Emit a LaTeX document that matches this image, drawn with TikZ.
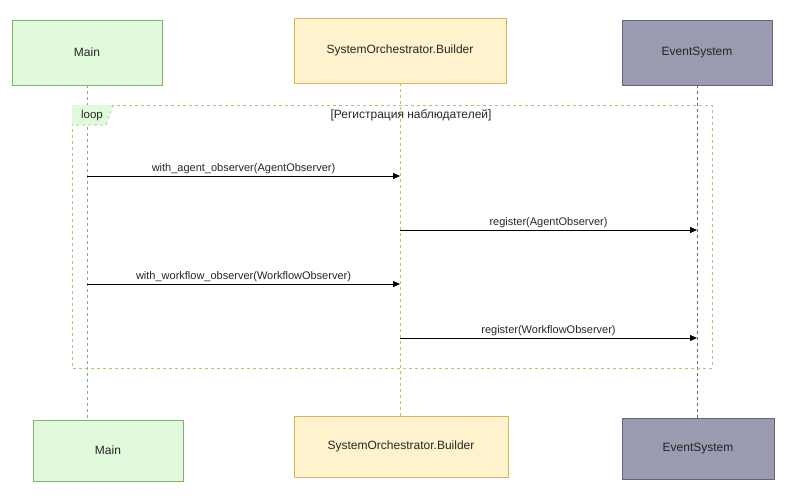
\documentclass[tikz,border=0pt]{standalone}
\usepackage{fontspec}
\setmainfont{Liberation Sans}
\usetikzlibrary{arrows.meta}
\definecolor{mainfill}{HTML}{E1FADC}
\definecolor{mainline}{HTML}{82B366}
\definecolor{bldfill}{HTML}{FFF2CC}
\definecolor{bldline}{HTML}{D6B656}
\definecolor{evfill}{HTML}{9A9AB0}
\definecolor{evline}{HTML}{66667A}
\definecolor{loopline}{HTML}{97D077}
\begin{document}
\begin{tikzpicture}[x=1pt,y=-1pt,
  actor/.style={draw, line width=0.8pt, inner sep=0pt, font=\fontsize{12}{14}\selectfont, text=black!85},
  lifeline/.style={dashed, dash pattern=on 3pt off 3pt, line width=0.7pt},
  msg/.style={-{Triangle[length=7pt,width=6pt]}, line width=0.8pt},
  msglabel/.style={font=\fontsize{11}{13}\selectfont, text=black!85, anchor=south, inner sep=1.5pt}]
\useasboundingbox (0,0) rectangle (802,501);
% participants, top row
\node[actor, fill=mainfill, draw=mainline, minimum width=150pt, minimum height=65pt] (mainT) at (87,52.5) {Main};
\node[actor, fill=bldfill, draw=bldline, minimum width=212pt, minimum height=65pt] (bldT) at (400,50.5) {SystemOrchestrator.Builder};
\node[actor, fill=evfill, draw=evline, minimum width=150pt, minimum height=65pt] (evT) at (697,52.5) {EventSystem};
% participants, bottom row
\node[actor, fill=mainfill, draw=mainline, minimum width=150pt, minimum height=61pt] (mainB) at (108,450.5) {Main};
\node[actor, fill=bldfill, draw=bldline, minimum width=214pt, minimum height=61pt] (bldB) at (401,446.5) {SystemOrchestrator.Builder};
\node[actor, fill=evfill, draw=evline, minimum width=152pt, minimum height=61pt] (evB) at (698,448.5) {EventSystem};
% lifelines
\coordinate (mainE) at (87,420);
\draw[lifeline, draw=mainline] (mainT.south) -- (mainE);
\draw[lifeline, draw=bldline] (bldT.south) -- (bldT.south |- bldB.north);
\coordinate (evE) at (697,418);
\draw[lifeline, draw=evline] (evT.south) -- (evE);
% loop frame
\coordinate (fTL) at (72,105);
\coordinate (fBR) at (712,368);
\draw[lifeline, draw=loopline, line width=0.6pt] (fTL) rectangle (fBR);
\coordinate (t1) at (113,105);
\coordinate (t2) at (106,125);
\coordinate (t3) at (72,125);
\fill[mainfill] (fTL) -- (t1) -- (t2) -- (t3) -- cycle;
\draw[lifeline, draw=loopline, line width=0.6pt] (t1) -- (t2) -- (t3);
\node[font=\fontsize{11.5}{13}\selectfont, text=black!85] (looplbl) at (92,115.5) {loop};
\node[font=\fontsize{12}{14}\selectfont, text=black!85] (guard) at (411,115.5) {[Регистрация наблюдателей]};
% messages
\coordinate (m1a) at (87,176); \coordinate (m1b) at (400,176);
\coordinate (m2a) at (400,230); \coordinate (m2b) at (697,230);
\coordinate (m3a) at (87,284); \coordinate (m3b) at (400,284);
\coordinate (m4a) at (400,338); \coordinate (m4b) at (697,338);
\draw[msg] (m1a) -- node[msglabel] {with\_agent\_observer(AgentObserver)} (m1b);
\draw[msg] (m2a) -- node[msglabel] {register(AgentObserver)} (m2b);
\draw[msg] (m3a) -- node[msglabel] {with\_workflow\_observer(WorkflowObserver)} (m3b);
\draw[msg] (m4a) -- node[msglabel] {register(WorkflowObserver)} (m4b);
\end{tikzpicture}
\end{document}
